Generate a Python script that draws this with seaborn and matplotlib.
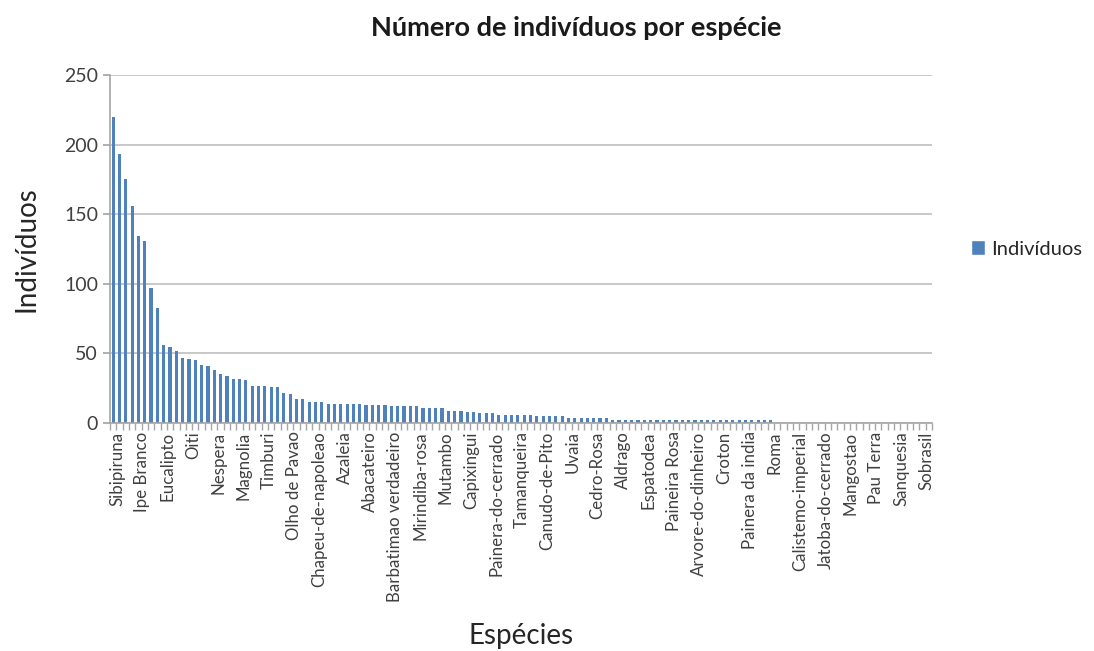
import matplotlib
matplotlib.use("Agg")
import matplotlib.pyplot as plt
from matplotlib.patches import Patch
from matplotlib.transforms import ScaledTranslation
import seaborn as sns
import numpy as np
import pandas as pd

# individuos por especie, ordenado (130 especies)
individuos = (
    [220, 193, 175, 156, 134, 131, 97, 83, 56, 55, 52, 47, 46, 45, 42, 41, 38, 35, 34, 32,
     32, 31, 27, 27, 27, 26, 26]
    + [22, 21, 17, 17, 15, 15, 15, 14, 14, 14, 14, 14, 14, 13, 13, 13, 13, 12, 12, 12,
       12, 12, 11, 11, 11, 11, 9, 9, 9, 8, 8, 7, 7, 7, 6, 6, 6, 6]
    + [6, 6, 5, 5, 5, 5, 5, 4, 4, 4, 4, 4, 4, 4]
    + [2] * 26
    + [0] * 25
)

# rotulos visiveis (a cada 4 especies)
rotulos = ["Sibipiruna", "Ipe Branco", "Eucalipto", "Oiti", "Nespera", "Magnolia",
           "Timburi", "Olho de Pavao", "Chapeu-de-napoleao", "Azaleia", "Abacateiro",
           "Barbatimao verdadeiro", "Mirindiba-rosa", "Mutambo", "Capixingui",
           "Painera-do-cerrado", "Tamanqueira", "Canudo-de-Pito", "Uvaia", "Cedro-Rosa",
           "Aldrago", "Espatodea", "Paineira Rosa", "Arvore-do-dinheiro", "Croton",
           "Painera da india", "Roma", "Calistemo-imperial", "Jatoba-do-cerrado",
           "Mangostao", "Pau Terra", "Sanquesia", "Sobrasil"]

cor = "#4F81BD"
data = pd.DataFrame({"idx": np.arange(len(individuos)), "Indivíduos": individuos})

sns.set_theme(style="white")
plt.rcParams["font.family"] = ["Lato", "DejaVu Sans"]

fig = plt.figure(figsize=(10.94, 6.51), dpi=100)
ax = fig.add_axes([0.1005, 0.350, 0.7515, 0.535])

sns.barplot(data=data, x="idx", y="Indivíduos", color=cor, width=0.5,
            saturation=1, linewidth=0, ax=ax)

n = len(individuos)
ax.set_xlim(-0.5, n - 0.5)
ax.set_ylim(0, 250)
ax.set_yticks([0, 50, 100, 150, 200, 250])
ax.tick_params(axis="y", labelsize=14, colors="#404040", length=5, color="#A6A6A6", left=True)
ax.yaxis.grid(True, color="#BFBFBF", linewidth=1.2)
ax.set_axisbelow(True)

ax.set_xticks(np.arange(0, n, 4))
ax.set_xticklabels(rotulos, rotation=90, fontsize=12.2, color="#404040")
ax.set_xticks(np.arange(-0.5, n, 1), minor=True)
ax.tick_params(axis="x", which="major", length=0, pad=6)
ax.tick_params(axis="x", which="minor", length=5, color="#A6A6A6", bottom=True)
# desloca um pouco os rotulos para a direita, como no Excel
for lab in ax.get_xticklabels():
    lab.set_transform(lab.get_transform() + ScaledTranslation(4 / 100, 0, fig.dpi_scale_trans))

for s in ["top", "right"]:
    ax.spines[s].set_visible(False)
for s in ["left", "bottom"]:
    ax.spines[s].set_color("#A6A6A6")
    ax.spines[s].set_linewidth(1.2)

ax.set_xlabel("Espécies", fontsize=20, color="#262626", labelpad=15)
ax.set_ylabel("Indivíduos", fontsize=20, color="#262626", labelpad=18)
fig.text(0.5265, 0.957, "Número de indivíduos por espécie", fontsize=19.5,
         fontweight="bold", color="#1a1a1a", ha="center", va="center")

ax.legend(handles=[Patch(facecolor=cor, label="Indivíduos")],
          loc="center left", bbox_to_anchor=(1.025, 0.5), frameon=False, fontsize=14.5,
          handlelength=0.7, handleheight=0.7, handletextpad=0.3)

fig.savefig("out.png", dpi=100)
